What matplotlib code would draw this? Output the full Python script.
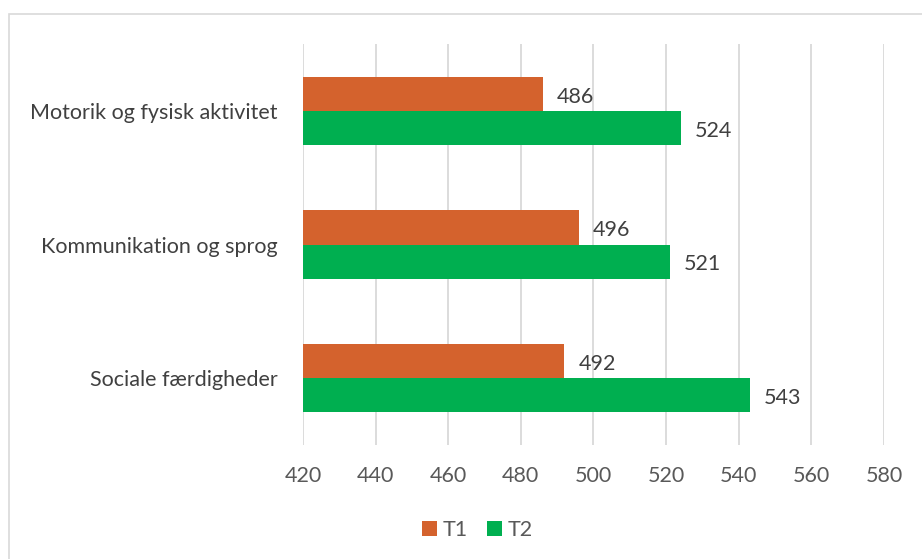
import matplotlib.pyplot as plt
import matplotlib.patches as mpatches
import numpy as np

plt.rcParams['font.family'] = ['Lato', 'DejaVu Sans']

categories = ['Motorik og fysisk aktivitet', 'Kommunikation og sprog', 'Sociale færdigheder']
t1 = [486, 496, 492]
t2 = [524, 521, 543]
series_names = ['T1', 'T2']
xticks = [420, 440, 460, 480, 500, 520, 540, 560, 580]

c1 = '#D4622D'
c2 = '#00AF50'
fs = 15.5

fig = plt.figure(figsize=(9.22, 5.59), dpi=100)
ax = fig.add_axes([0.3286, 0.2039, 0.9588 - 0.3286, 0.9213 - 0.2039])

# chart border
fig.patches.append(mpatches.Rectangle((9 / 922, -0.1), 1.2, (559 - 14) / 559 + 0.1,
                                      transform=fig.transFigure, fill=False,
                                      edgecolor='#D9D9D9', linewidth=1.2))

y = np.arange(len(categories))
h = 0.255
left = 420
b1 = ax.barh(y - h / 2, np.array(t1) - left, height=h, left=left, color=c1, label=series_names[0])
b2 = ax.barh(y + h / 2, np.array(t2) - left, height=h, left=left, color=c2, label=series_names[1])

for yy, v in list(zip(y - h / 2, t1)) + list(zip(y + h / 2, t2)):
    ax.annotate(str(v), xy=(v, yy), xytext=(10, -2), textcoords='offset points',
                va='center', ha='left', fontsize=fs, color='#404040')

ax.set_xlim(420, 580)
ax.set_ylim(len(categories) - 0.5, -0.5)
ax.set_xticks(xticks)
ax.set_yticks(y)
ax.set_yticklabels(categories)
ax.tick_params(axis='both', length=0, labelsize=fs, colors='#595959')
ax.tick_params(axis='x', pad=15)
ax.tick_params(axis='y', pad=18)
for lab in ax.get_yticklabels():
    lab.set_color('#404040')
ax.grid(axis='x', color='#D9D9D9', linewidth=1.3)
ax.set_axisbelow(True)
for s in ax.spines.values():
    s.set_visible(False)

fig.legend(handles=[b1, b2], loc='center', bbox_to_anchor=(477 / 922, 1 - 530 / 559),
           ncol=2, frameon=False, fontsize=fs, handlelength=0.7, handleheight=0.7,
           handletextpad=0.25, columnspacing=0.9, labelcolor='#595959')

fig.savefig('out.png', dpi=100)
